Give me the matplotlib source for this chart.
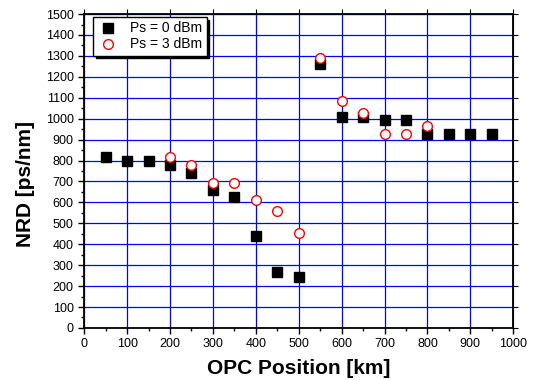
import numpy as np
import matplotlib
matplotlib.use("Agg")
import matplotlib.pyplot as plt

plt.rcParams['font.family'] = ['Liberation Sans', 'DejaVu Sans']

# data
pos_0dbm = [50, 100, 150, 200, 250, 300, 350, 400, 450, 500, 550, 600, 650, 700, 750, 800, 850, 900, 950]
nrd_0dbm = [815, 800, 800, 780, 740, 660, 625, 440, 265, 245, 1260, 1010, 1010, 995, 995, 925, 925, 925, 925]
pos_3dbm = [200, 250, 300, 350, 400, 450, 500, 550, 600, 650, 700, 750, 800]
nrd_3dbm = [815, 780, 695, 695, 610, 560, 455, 1290, 1085, 1025, 925, 925, 965]

fig = plt.figure(figsize=(5.33, 3.8), dpi=100)
ax = fig.add_axes([0.158, 0.137, 0.805, 0.826])

ax.grid(True, color='blue', linewidth=0.9)
ax.set_axisbelow(True)

ax.plot(pos_0dbm, nrd_0dbm, 's', color='black', markersize=7, label='Ps = 0 dBm', zorder=3)
ax.plot(pos_3dbm, nrd_3dbm, 'o', mfc='white', mec='red', mew=1, markersize=7, label='Ps = 3 dBm', zorder=4)

ax.set_xlim(0, 1000)
ax.set_ylim(0, 1500)
ax.set_xticks(np.arange(0, 1001, 100))
ax.set_xticks(np.arange(0, 1001, 50), minor=True)
ax.set_yticks(np.arange(0, 1501, 100))
ax.set_yticks(np.arange(0, 1501, 50), minor=True)
ax.tick_params(which='both', direction='out', labelsize=9, width=1, top=False, right=False)
ax.tick_params(which='major', length=4)
ax.tick_params(which='minor', length=2.5)
# inward major ticks on the top and right edges
ax.secondary_xaxis('top').set_xticks(np.arange(0, 1001, 100), labels=[])
ax.secondary_yaxis('right').set_yticks(np.arange(0, 1501, 100), labels=[])
for sec in fig.axes[1:]:
    sec.tick_params(direction='in', length=3, width=1)
    for s in sec.spines.values():
        s.set_linewidth(1.3)
for s in ax.spines.values():
    s.set_linewidth(1.3)

ax.set_xlabel('OPC Position [km]', fontsize=15, fontweight='bold', labelpad=6)
ax.set_ylabel('NRD [ps/nm]', fontsize=15, fontweight='bold')
ax.yaxis.set_label_coords(-0.114, 0.46)

leg = ax.legend(loc='upper left', bbox_to_anchor=(0.02, 0.99), fontsize=10, frameon=True,
                fancybox=False, shadow={'color': 'black', 'alpha': 1}, borderpad=0.3,
                handletextpad=0.8, labelspacing=0.15, borderaxespad=0, handlelength=1.6)
leg.get_frame().set_edgecolor('black')
leg.get_frame().set_linewidth(1)

fig.savefig('out.png', dpi=100)
